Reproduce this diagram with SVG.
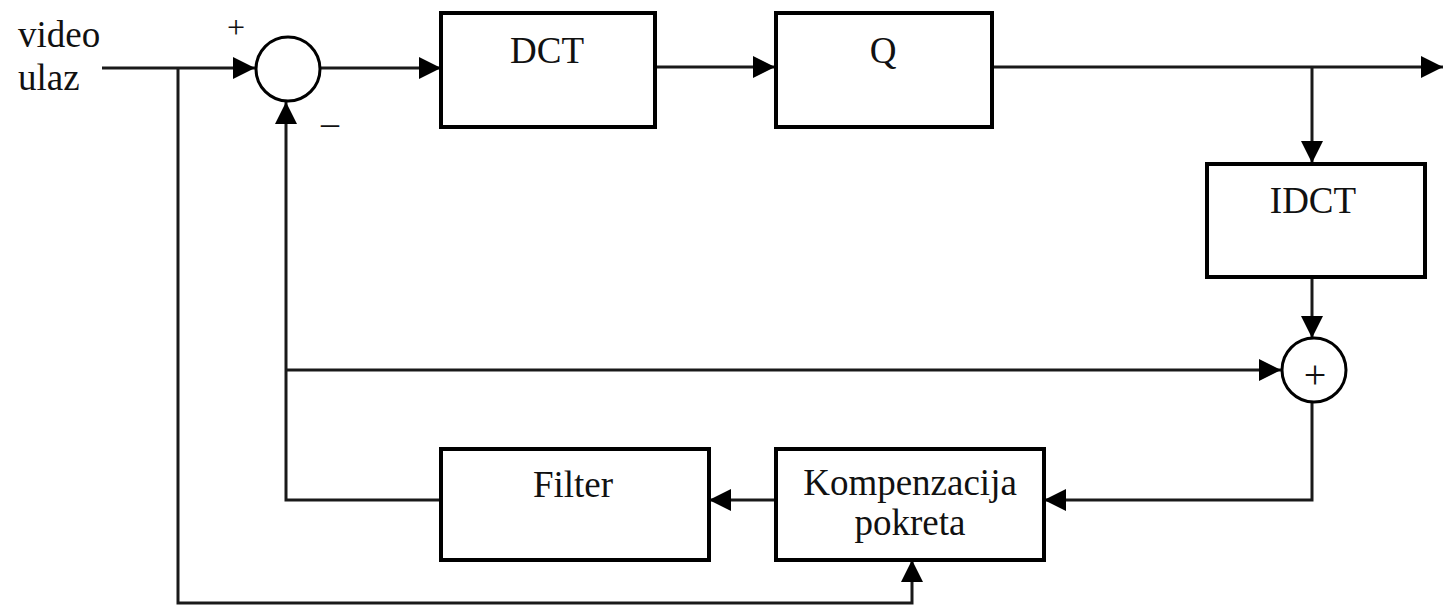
<svg xmlns="http://www.w3.org/2000/svg" width="1443" height="606" viewBox="0 0 1443 606">
<style>
.box{fill:#fff;stroke:#000;stroke-width:4}
.sum{fill:#fff;stroke:#000;stroke-width:3}
.ln{fill:none;stroke:#1a1a1a;stroke-width:3}
.t{font-family:"Liberation Serif","Times New Roman",serif;font-size:37px;fill:#111}
.c{text-anchor:middle}
</style>
<defs>
<marker id="ar" markerUnits="userSpaceOnUse" markerWidth="24" markerHeight="24" refX="22" refY="11" orient="auto">
<path d="M0,0 L22,11 L0,22 z" fill="#000"/>
</marker>
</defs>
<g id="connectors">
<polyline class="ln" points="102,68 255,68" marker-end="url(#ar)"/>
<polyline class="ln" points="178,68 178,603 912,603 912,560" marker-end="url(#ar)"/>
<polyline class="ln" points="321,68 441,68" marker-end="url(#ar)"/>
<polyline class="ln" points="655,67 775,67" marker-end="url(#ar)"/>
<polyline class="ln" points="992,67 1443,67" marker-end="url(#ar)"/>
<polyline class="ln" points="1312,67 1312,163" marker-end="url(#ar)"/>
<polyline class="ln" points="1312,277 1312,338" marker-end="url(#ar)"/>
<polyline class="ln" points="1312,402 1312,500 1044,500" marker-end="url(#ar)"/>
<polyline class="ln" points="776,500 709,500" marker-end="url(#ar)"/>
<polyline class="ln" points="441,500 286,500 286,102" marker-end="url(#ar)"/>
<polyline class="ln" points="286,370 1281,370" marker-end="url(#ar)"/>
</g>
<g id="input-label">
<text class="t" x="18" y="47">video</text>
<text class="t" x="18" y="90">ulaz</text>
</g>
<g id="sum1">
<circle class="sum" cx="288" cy="69" r="32"/>
<text class="t" x="236" y="38" style="font-size:32px" text-anchor="middle">+</text>
<text class="t" x="330" y="135" style="font-size:36px" text-anchor="middle">–</text>
</g>
<g id="dct">
<rect class="box" x="441" y="13" width="214" height="114"/>
<text class="t c" x="547" y="63">DCT</text>
</g>
<g id="q">
<rect class="box" x="776" y="13" width="216" height="114"/>
<text class="t c" x="883" y="63">Q</text>
</g>
<g id="idct">
<rect class="box" x="1207" y="164" width="218" height="113"/>
<text class="t c" x="1313" y="213">IDCT</text>
</g>
<g id="sum2">
<circle class="sum" cx="1314" cy="370" r="32"/>
<text class="t c" x="1315" y="388" style="font-size:40px">+</text>
</g>
<g id="filter">
<rect class="box" x="441" y="449" width="268" height="111"/>
<text class="t c" x="573" y="497">Filter</text>
</g>
<g id="kompenzacija">
<rect class="box" x="776" y="449" width="268" height="111"/>
<text class="t c" x="910" y="495">Kompenzacija</text>
<text class="t c" x="910" y="535">pokreta</text>
</g>
</svg>
